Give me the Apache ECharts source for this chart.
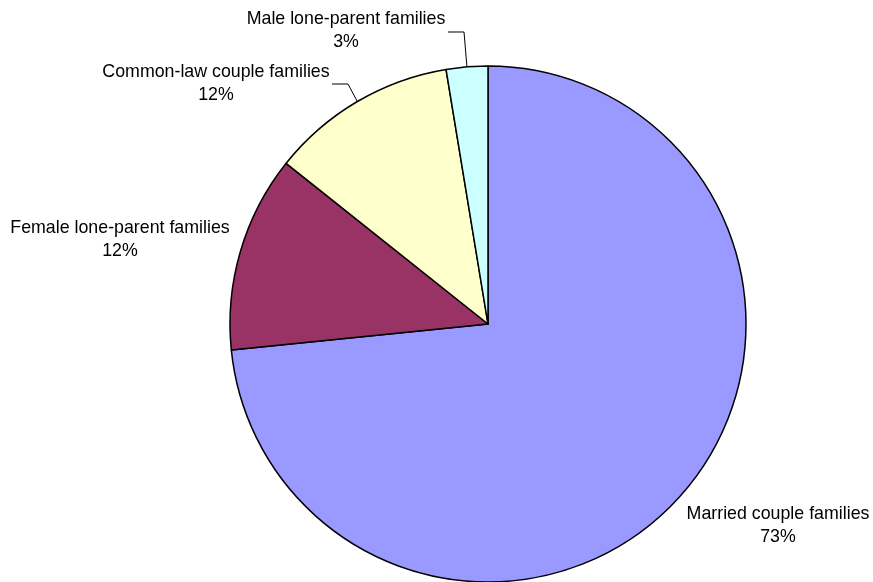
<!DOCTYPE html>
<html>
<head>
<meta charset="utf-8">
<script src="https://cdn.jsdelivr.net/npm/echarts@6/dist/echarts.min.js"></script>
<style>
  html, body { margin: 0; padding: 0; background: #ffffff; }
  #chart { width: 873px; height: 582px; }
</style>
</head>
<body>
<div id="chart"></div>
<script>
// Family structure shares (per cent), clockwise from 12 o'clock
const categories = [
  'Married couple families',
  'Female lone-parent families',
  'Common-law couple families',
  'Male lone-parent families'
];
const shares = [73.4, 12.3, 11.7, 2.6];
const sliceColors = ['#9999FF', '#993366', '#FFFFCC', '#CCFFFF'];

// Label block centres and leader-line routing (pixels)
const labelCentres = [
  { x: 778, y: 526 },
  { x: 120, y: 240 },
  { x: 216, y: 84 },
  { x: 346, y: 31 }
];
const leaderRoutes = [
  null,
  null,
  [{ x: 348, y: 84 }, { x: 332, y: 84 }],
  [{ x: 464, y: 32 }, { x: 448, y: 32 }]
];

const chart = echarts.init(document.getElementById('chart'), null, { renderer: 'canvas' });

const total = shares.reduce((a, b) => a + b, 0);

chart.setOption({
  animation: false,
  backgroundColor: '#ffffff',
  series: [{
    type: 'pie',
    center: [488, 324],
    radius: [0, 258],
    startAngle: 90,
    clockwise: true,
    avoidLabelOverlap: false,
    itemStyle: { borderColor: '#000000', borderWidth: 1.5 },
    label: {
      show: true,
      position: 'outside',
      fontFamily: '"Liberation Sans", Arial, sans-serif',
      fontSize: 17.8,
      lineHeight: 23,
      color: '#000000',
      align: 'center',
      formatter: p => p.name + '\n' + Math.round(p.value / total * 100) + '%'
    },
    labelLine: { show: true, lineStyle: { color: '#000000', width: 1 }, smooth: false },
    labelLayout: function (params) {
      const i = params.dataIndex;
      const c = labelCentres[i];
      const out = { x: c.x, y: c.y, align: 'center', verticalAlign: 'middle' };
      const route = leaderRoutes[i];
      if (route && params.labelLinePoints) {
        const p0 = params.labelLinePoints[0];
        out.labelLinePoints = [[p0[0], p0[1]], [route[0].x, route[0].y], [route[1].x, route[1].y]];
      }
      return out;
    },
    data: categories.map((name, i) => ({
      name: name,
      value: shares[i],
      itemStyle: { color: sliceColors[i] },
      labelLine: { show: leaderRoutes[i] !== null }
    }))
  }]
});
</script>
</body>
</html>
